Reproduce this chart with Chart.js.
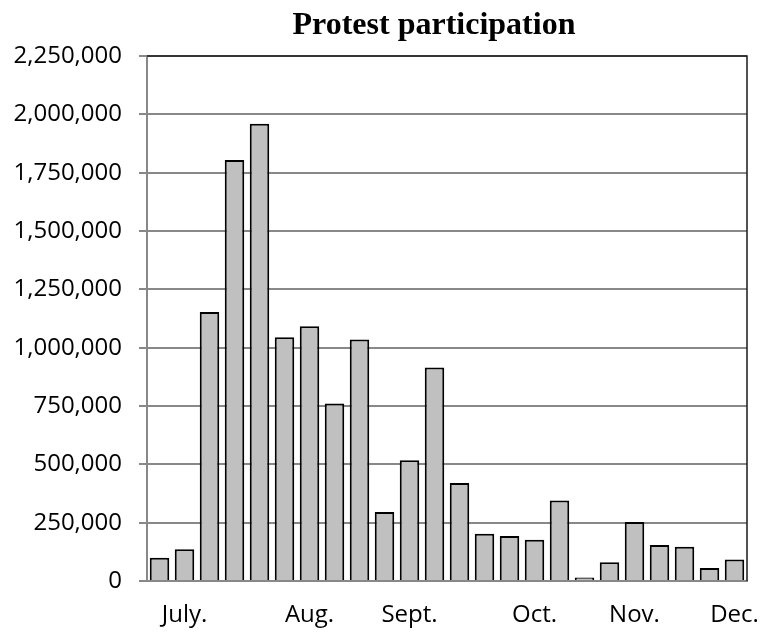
<!DOCTYPE html>
<html>
<head>
<meta charset="utf-8">
<script src="https://cdn.jsdelivr.net/npm/chart.js@4"></script>
<style>
  html, body { margin: 0; padding: 0; background: #fff; }
  #wrap { width: 762px; height: 632px; }
</style>
</head>
<body>
<div id="wrap"><canvas id="grafica1" width="762" height="632"></canvas></div>
<script>
// one bar per week, month names only under some weeks
const weeks = ["", "July.", "", "", "", "", "Aug.", "", "", "", "Sept.", "", "",
               "", "", "Oct.", "", "", "", "Nov.", "", "", "", "Dec."];
const participants = [100000, 136000, 1153000, 1804000, 1960000, 1045000, 1092000, 761000,
                      1035000, 296000, 518000, 915000, 420000, 203000, 193000, 177000,
                      345000, 15000, 80000, 253000, 154000, 147000, 56000, 92000];
const yMax = 2250000;
const yStep = 250000;
const chartTitle = "Protest participation";

// title + black frame on top/right of the plot
const frame = {
  id: "frame",
  afterDraw(chart) {
    const { ctx, chartArea: a } = chart;
    ctx.save();
    ctx.strokeStyle = "#1a1a1a";
    ctx.lineWidth = 1.5;
    ctx.beginPath();
    ctx.moveTo(a.left, a.top);
    ctx.lineTo(a.right, a.top);
    ctx.lineTo(a.right, a.bottom);
    ctx.stroke();
    ctx.fillStyle = "#000";
    ctx.font = "bold 32px 'Liberation Serif'";
    ctx.textAlign = "center";
    ctx.textBaseline = "alphabetic";
    ctx.fillText(chartTitle, 434, 34);
    ctx.restore();
  }
};

const ctx = document.getElementById("grafica1");
new Chart(ctx, {
  type: "bar",
  data: {
    labels: weeks,
    datasets: [{
      data: participants,
      backgroundColor: "#c0c0c0",
      borderColor: "#000",
      borderWidth: 2,
      borderSkipped: "start",
      barPercentage: 0.78,
      categoryPercentage: 1.0
    }]
  },
  options: {
    responsive: false,
    animation: false,
    layout: { padding: { top: 56, right: 15, left: 0, bottom: 3 } },
    plugins: {
      legend: { display: false },
      title: { display: false },
      tooltip: { enabled: false }
    },
    scales: {
      x: {
        z: 1, // axis line over the bar bottoms
        grid: { display: false, drawTicks: false },
        border: { color: "#888", width: 2 },
        ticks: {
          autoSkip: false,
          maxRotation: 0,
          padding: 20,
          color: "#000",
          font: { family: "'Open Sans'", size: 24 }
        },
        afterFit: (s) => { s.height = 48; s.paddingLeft = 0; s.paddingRight = 0; }
      },
      y: {
        min: 0,
        max: yMax,
        grid: { color: "#888", lineWidth: 2, tickLength: 8 },
        border: { color: "#888", width: 2 },
        ticks: {
          stepSize: yStep,
          padding: 17,
          color: "#000",
          font: { family: "'Open Sans'", size: 24 },
          callback: (v) => v.toLocaleString("en-US")
        },
        afterFit: (s) => { s.width = 147; }
      }
    }
  },
  plugins: [frame]
});
</script>
</body>
</html>
